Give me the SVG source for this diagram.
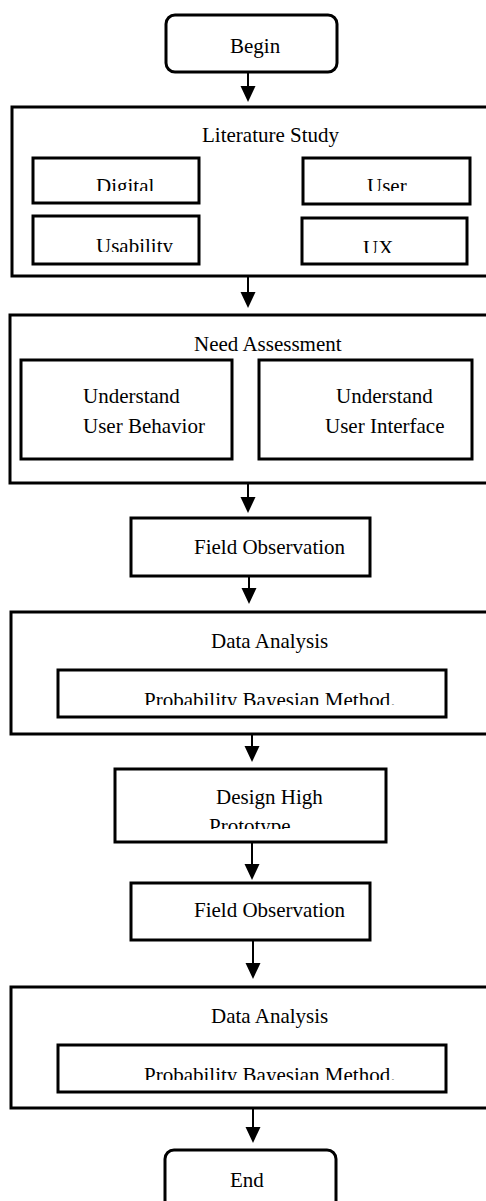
<svg xmlns="http://www.w3.org/2000/svg" width="486" height="1201" viewBox="0 0 486 1201">
<defs>
<style>
.box{fill:#fff;stroke:#000;stroke-width:3}
.t{font-family:"Liberation Serif","Times New Roman",serif;font-size:21px;fill:#000}
.c{fill:none;stroke:#000;stroke-width:2}
</style>
<clipPath id="cDig"><rect x="33" y="157" width="167" height="34"/></clipPath>
<clipPath id="cUser"><rect x="303" y="157" width="167" height="34"/></clipPath>
<clipPath id="cUsa"><rect x="33" y="216" width="167" height="36"/></clipPath>
<clipPath id="cUX"><rect x="302" y="218" width="165" height="35"/></clipPath>
<clipPath id="cPb1"><rect x="58" y="670" width="388" height="35"/></clipPath>
<clipPath id="cPb2"><rect x="58" y="1045" width="388" height="35"/></clipPath>
<clipPath id="cProt"><rect x="115" y="769" width="271" height="60"/></clipPath>
</defs>

<g id="connectors">
<line class="c" x1="248" y1="72" x2="248" y2="86"/>
<line class="c" x1="248" y1="276" x2="248" y2="292"/>
<line class="c" x1="248" y1="483" x2="248" y2="497"/>
<line class="c" x1="249" y1="576" x2="249" y2="588"/>
<line class="c" x1="252" y1="734" x2="252" y2="746"/>
<line class="c" x1="252" y1="842" x2="252" y2="864"/>
<line class="c" x1="253" y1="940" x2="253" y2="963"/>
<line class="c" x1="253" y1="1108" x2="253" y2="1127"/>
<path d="M240.5,86 L255.5,86 L248,102 Z"/>
<path d="M240.5,292 L255.5,292 L248,308 Z"/>
<path d="M240.5,497 L255.5,497 L248,513 Z"/>
<path d="M241.5,588 L256.5,588 L249,604 Z"/>
<path d="M244.5,746 L259.5,746 L252,762 Z"/>
<path d="M244.5,864 L259.5,864 L252,880 Z"/>
<path d="M245.5,963 L260.5,963 L253,979 Z"/>
<path d="M245.5,1127 L260.5,1127 L253,1143 Z"/>
</g>

<g id="begin">
<rect class="box" x="166" y="15" width="171" height="57" rx="9"/>
<text class="t" x="230" y="53">Begin</text>
</g>

<g id="literature-study">
<rect class="box" x="12" y="107" width="480" height="169"/>
<text class="t" x="202" y="142">Literature Study</text>
</g>
<g id="digital">
<rect class="box" x="33" y="158" width="166" height="45"/>
<text class="t" x="96" y="193" clip-path="url(#cDig)">Digital</text>
</g>
<g id="user">
<rect class="box" x="303" y="158" width="167" height="46"/>
<text class="t" x="367" y="193" clip-path="url(#cUser)">User</text>
</g>
<g id="usability">
<rect class="box" x="33" y="216" width="166" height="48"/>
<text class="t" x="96" y="253" clip-path="url(#cUsa)">Usability</text>
</g>
<g id="ux">
<rect class="box" x="302" y="218" width="165" height="46"/>
<text class="t" x="363" y="255" clip-path="url(#cUX)">UX</text>
</g>

<g id="need-assessment">
<rect class="box" x="10" y="315" width="482" height="168"/>
<text class="t" x="194" y="351">Need Assessment</text>
</g>
<g id="understand-behavior">
<rect class="box" x="21" y="360" width="211" height="99"/>
<text class="t" x="83" y="403">Understand</text>
<text class="t" x="83" y="433">User Behavior</text>
</g>
<g id="understand-interface">
<rect class="box" x="259" y="360" width="213" height="99"/>
<text class="t" x="336" y="403">Understand</text>
<text class="t" x="325" y="433">User Interface</text>
</g>

<g id="field-observation-1">
<rect class="box" x="131" y="518" width="239" height="58"/>
<text class="t" x="194" y="554">Field Observation</text>
</g>

<g id="data-analysis-1">
<rect class="box" x="11" y="612" width="481" height="122"/>
<text class="t" x="211" y="648">Data Analysis</text>
</g>
<g id="bayesian-1">
<rect class="box" x="58" y="670" width="388" height="47"/>
<text class="t" x="144" y="707" clip-path="url(#cPb1)">Probability Bayesian Method.</text>
</g>

<g id="design-high-prototype">
<rect class="box" x="115" y="769" width="271" height="73"/>
<text class="t" x="216" y="804">Design High</text>
<text class="t" x="209" y="833" clip-path="url(#cProt)">Prototype</text>
</g>

<g id="field-observation-2">
<rect class="box" x="131" y="883" width="239" height="57"/>
<text class="t" x="194" y="917">Field Observation</text>
</g>

<g id="data-analysis-2">
<rect class="box" x="11" y="987" width="481" height="121"/>
<text class="t" x="211" y="1023">Data Analysis</text>
</g>
<g id="bayesian-2">
<rect class="box" x="58" y="1045" width="388" height="47"/>
<text class="t" x="144" y="1082" clip-path="url(#cPb2)">Probability Bayesian Method.</text>
</g>

<g id="end">
<rect class="box" x="165" y="1150" width="171" height="70" rx="9"/>
<text class="t" x="230" y="1187">End</text>
</g>
</svg>
